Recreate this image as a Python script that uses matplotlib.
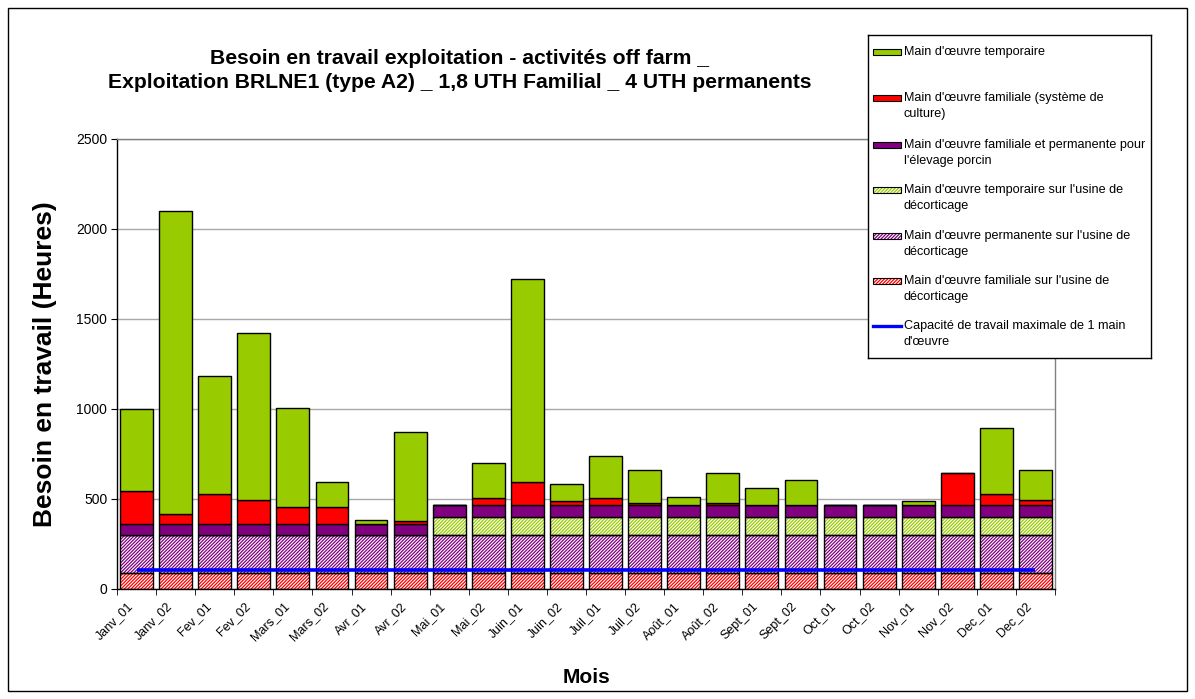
import matplotlib
matplotlib.use("Agg")
import matplotlib.pyplot as plt
import matplotlib.transforms as mtransforms
from matplotlib.patches import Rectangle
from matplotlib.lines import Line2D
import numpy as np

plt.rcParams['font.family'] = ['Liberation Sans', 'DejaVu Sans']
plt.rcParams['hatch.linewidth'] = 0.9

months = ['Janv_01', 'Janv_02', 'Fev_01', 'Fev_02', 'Mars_01', 'Mars_02',
          'Avr_01', 'Avr_02', 'Mai_01', 'Mai_02', 'Juin_01', 'Juin_02',
          'Juil_01', 'Juil_02', 'Août_01', 'Août_02', 'Sept_01', 'Sept_02',
          'Oct_01', 'Oct_02', 'Nov_01', 'Nov_02', 'Dec_01', 'Dec_02']

fam_usine = [90, 90, 90, 90, 90, 90, 90, 90, 90, 90, 90, 90,
             90, 90, 90, 90, 90, 90, 90, 90, 90, 90, 90, 90]
perm_usine = [210, 210, 210, 210, 210, 210, 210, 210, 210, 210, 210, 210,
              210, 210, 210, 210, 210, 210, 210, 210, 210, 210, 210, 210]
temp_usine = [0, 0, 0, 0, 0, 0, 0, 0, 100, 100, 100, 100,
              100, 100, 100, 100, 100, 100, 100, 100, 100, 100, 100, 100]
porcin = [60, 60, 60, 60, 60, 60, 60, 60, 65, 65, 65, 65,
          65, 65, 65, 65, 65, 65, 65, 65, 65, 65, 65, 65]
fam_culture = [183, 57, 166, 133, 94, 94, 3, 20, 0, 39, 128, 22,
               39, 11, 0, 11, 3, 3, 0, 0, 0, 178, 61, 28]
temporaire = [457, 1683, 657, 929, 550, 139, 22, 494, 0, 194, 1129, 95,
              235, 185, 44, 167, 91, 136, 0, 0, 22, 0, 370, 168]
capacite = [108, 108, 108, 108, 108, 108, 108, 108, 108, 108, 108, 108,
            108, 108, 108, 108, 108, 108, 108, 108, 108, 108, 108, 108]

labels = {
    'temp': "Main d'œuvre temporaire",
    'cult': "Main d'œuvre familiale (système de\nculture)",
    'porc': "Main d'œuvre familiale et permanente pour\nl'élevage porcin",
    'tusine': "Main d'œuvre temporaire sur l'usine de\ndécorticage",
    'pusine': "Main d'œuvre permanente sur l'usine de\ndécorticage",
    'fusine': "Main d'œuvre familiale sur l'usine de\ndécorticage",
    'cap': "Capacité de travail maximale de 1 main\nd'œuvre",
}

GREEN = '#99CC00'
RED = '#FF0000'
PURPLE = '#800080'
BLUE = '#0000FF'
HATCH = '//////////'

W, H = 1195, 699
fig = plt.figure(figsize=(W / 100, H / 100), dpi=100)
fig.patch.set_facecolor('white')

ax = fig.add_axes([117 / W, (H - 589) / H, (1055 - 117) / W, (589 - 139) / H])

x = np.arange(len(months))
bw = 0.84

layers = [
    (fam_usine, RED, True),
    (perm_usine, PURPLE, True),
    (temp_usine, GREEN, True),
    (porcin, PURPLE, False),
    (fam_culture, RED, False),
    (temporaire, GREEN, False),
]

bottom = np.zeros(len(months))
for vals, col, hatched in layers:
    v = np.array(vals, dtype=float)
    if hatched:
        ax.bar(x, v, bw, bottom=bottom, color='white', edgecolor=col,
               hatch=HATCH, linewidth=0, zorder=2)
        ax.bar(x, v, bw, bottom=bottom, fill=False, edgecolor='black',
               linewidth=1.0, zorder=3)
    else:
        ax.bar(x, v, bw, bottom=bottom, color=col, edgecolor='black',
               linewidth=1.0, zorder=3)
    bottom = bottom + v

ax.plot(x, capacite, color=BLUE, lw=2.6, zorder=5, solid_capstyle='butt')

ax.set_xlim(-0.5, len(months) - 0.5)
ax.set_ylim(0, 2500)
ax.set_yticks([0, 500, 1000, 1500, 2000, 2500])
ax.yaxis.grid(True, color='#a8a8a8', lw=1.0)
ax.set_axisbelow(True)
ax.tick_params(axis='y', direction='out', length=4, labelsize=10, pad=3)

ax.set_xticks(x)
ax.set_xticks(np.arange(-0.5, len(months), 1.0), minor=True)
ax.tick_params(axis='x', which='major', length=0, pad=8)
ax.tick_params(axis='x', which='minor', direction='out', length=4)
offset = mtransforms.ScaledTranslation(-10 / 100, 0, fig.dpi_scale_trans)
ax.set_xticklabels(months, rotation=45, ha='right', va='top',
                   rotation_mode='anchor', fontsize=9)
for lab in ax.get_xticklabels():
    lab.set_transform(lab.get_transform() + offset)

for s in ['left', 'bottom']:
    ax.spines[s].set_color('black')
    ax.spines[s].set_linewidth(1.0)
for s in ['top', 'right']:
    ax.spines[s].set_color('#808080')
    ax.spines[s].set_linewidth(1.0)

ax.set_ylabel('Besoin en travail (Heures)', fontsize=19, fontweight='bold')
ax.yaxis.set_label_coords((57 - 117) / (1055 - 117), 0.5)
ax.set_xlabel('Mois', fontsize=15, fontweight='bold')
ax.xaxis.set_label_coords((586 - 117) / (1055 - 117), (589 - 668) / 450)

fig.text(460 / W, 1 - 58 / H, 'Besoin en travail exploitation - activités off farm _',
         ha='center', va='center', fontsize=15.2, fontweight='bold')
fig.text(460 / W, 1 - 83 / H,
         'Exploitation BRLNE1 (type A2) _ 1,8 UTH Familial _ 4 UTH permanents',
         ha='center', va='center', fontsize=15.2, fontweight='bold')

# legend (manual, pixel coordinates)
lx0, lx1, ly0, ly1 = 868, 1151, 35, 358
lax = fig.add_axes([lx0 / W, (H - ly1) / H, (lx1 - lx0) / W, (ly1 - ly0) / H])
lax.set_xlim(lx0, lx1)
lax.set_ylim(ly1, ly0)
lax.set_xticks([])
lax.set_yticks([])
for s in lax.spines.values():
    s.set_color('black')
    s.set_linewidth(1.0)
lax.set_zorder(10)

entries = [
    ('temp', GREEN, False, 52),
    ('cult', RED, False, 98),
    ('porc', PURPLE, False, 145),
    ('tusine', GREEN, True, 190),
    ('pusine', PURPLE, True, 236),
    ('fusine', RED, True, 281),
]
for key, col, hatched, yc in entries:
    if hatched:
        lax.add_patch(Rectangle((873, yc - 3), 28, 6, facecolor='white',
                                edgecolor=col, hatch=HATCH, lw=0))
        lax.add_patch(Rectangle((873, yc - 3), 28, 6, fill=False,
                                edgecolor='black', lw=0.8))
    else:
        lax.add_patch(Rectangle((873, yc - 3), 28, 6, facecolor=col,
                                edgecolor='black', lw=0.8))
    for i, line in enumerate(labels[key].split('\n')):
        lax.text(904, yc + 16 * i, line, va='center', ha='left', fontsize=9.1)

yc = 326
lax.add_line(Line2D([873, 901], [yc, yc], color=BLUE, lw=2.4))
for i, line in enumerate(labels['cap'].split('\n')):
    lax.text(904, yc + 16 * i, line, va='center', ha='left', fontsize=9.1)

# outer frame
fig.add_artist(Rectangle((8 / W, 8 / H), (1187 - 8) / W, (691 - 8) / H,
                         transform=fig.transFigure, fill=False,
                         edgecolor='black', lw=1.0))

fig.savefig('out.png', dpi=100, facecolor='white')
